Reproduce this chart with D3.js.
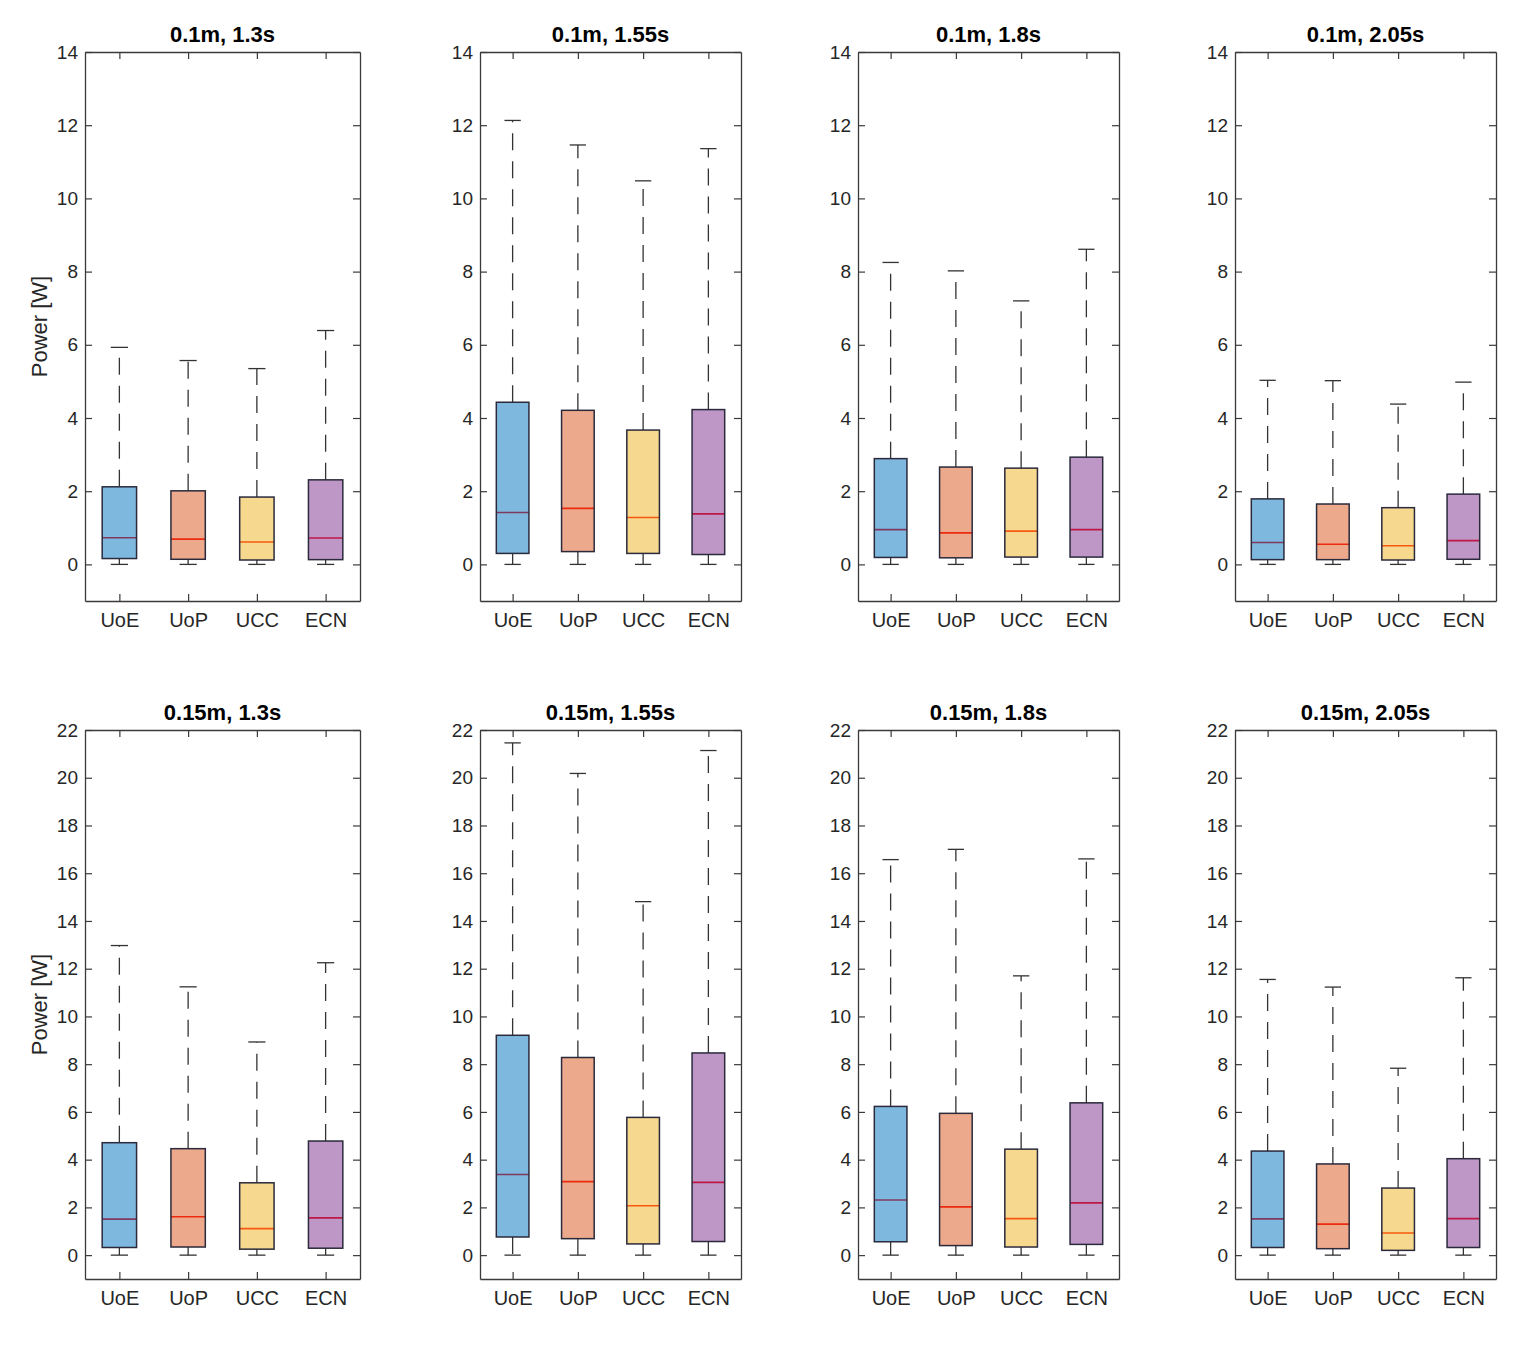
<!DOCTYPE html>
<html>
<head>
<meta charset="utf-8">
<script src="https://cdn.jsdelivr.net/npm/d3@7"></script>
<style>
  body { margin: 0; background: #fff; }
  text { font-family: "Liberation Sans", Arial, sans-serif; fill: #262626; }
</style>
</head>
<body>
<div id="chart"></div>
<script>
// ---- data ----
var categories = ['UoE', 'UoP', 'UCC', 'ECN'];
var titles = ['0.1m, 1.3s', '0.1m, 1.55s', '0.1m, 1.8s', '0.1m, 2.05s',
              '0.15m, 1.3s', '0.15m, 1.55s', '0.15m, 1.8s', '0.15m, 2.05s'];
var topTicks = [0, 2, 4, 6, 8, 10, 12, 14];
var bottomTicks = [0, 2, 4, 6, 8, 10, 12, 14, 16, 18, 20, 22];

// one row per panel, one value per category
var whiskerHigh = [
  [5.93, 5.57, 5.35, 6.39],
  [12.13, 11.46, 10.48, 11.36],
  [8.25, 8.02, 7.20, 8.61],
  [5.03, 5.02, 4.38, 4.98],
  [12.97, 11.24, 8.93, 12.25],
  [21.46, 20.18, 14.81, 21.14],
  [16.57, 17.00, 11.70, 16.60],
  [11.55, 11.23, 7.83, 11.62]
];
var q3 = [
  [2.12, 2.01, 1.84, 2.31],
  [4.43, 4.21, 3.67, 4.23],
  [2.89, 2.66, 2.63, 2.93],
  [1.79, 1.65, 1.55, 1.92],
  [4.71, 4.46, 3.03, 4.78],
  [9.21, 8.28, 5.77, 8.47],
  [6.23, 5.94, 4.44, 6.38],
  [4.36, 3.82, 2.81, 4.04]
];
var median = [
  [0.73, 0.69, 0.61, 0.72],
  [1.42, 1.53, 1.28, 1.38],
  [0.95, 0.86, 0.91, 0.95],
  [0.60, 0.55, 0.51, 0.65],
  [1.51, 1.61, 1.11, 1.56],
  [3.38, 3.08, 2.07, 3.05],
  [2.31, 2.02, 1.53, 2.19],
  [1.52, 1.30, 0.93, 1.53]
];
var q1 = [
  [0.16, 0.14, 0.12, 0.13],
  [0.30, 0.35, 0.30, 0.27],
  [0.19, 0.18, 0.20, 0.20],
  [0.13, 0.13, 0.12, 0.14],
  [0.32, 0.34, 0.25, 0.29],
  [0.76, 0.69, 0.47, 0.57],
  [0.56, 0.40, 0.34, 0.45],
  [0.32, 0.27, 0.20, 0.32]
];
var whiskerLow = [
  [0, 0, 0, 0], [0, 0, 0, 0], [0, 0, 0, 0], [0, 0, 0, 0],
  [0, 0, 0, 0], [0, 0, 0, 0], [0, 0, 0, 0], [0, 0, 0, 0]
];

var boxColors = ['#0072BD', '#D95319', '#EDB120', '#7E2F8E'];

// ---- layout ----
var W = 1538, H = 1346;
var colLeft = [85, 480, 858, 1235];
var colWidth = [275, 261, 261, 261];
var rowTop = [52, 730];
var rowBottom = [601, 1279];
var axisColor = '#3a3a3a';

var svg = d3.select('#chart').append('svg')
  .attr('width', W)
  .attr('height', H);

function drawPanel(p) {
  var row = Math.floor(p / 4), col = p % 4;
  var x0 = colLeft[col], w = colWidth[col];
  var y0 = rowTop[row], y1 = rowBottom[row];
  var ticks = row === 0 ? topTicks : bottomTicks;

  var x = d3.scaleLinear().domain([0.5, 4.5]).range([x0, x0 + w]);
  var y = d3.scaleLinear().domain([-1, ticks[ticks.length - 1]]).range([y1, y0]);
  var unit = x(1) - x(0);

  var g = svg.append('g');

  // y axis (left) with labels, ticks pointing in
  g.append('g')
    .attr('transform', 'translate(' + x0 + ',0)')
    .call(d3.axisLeft(y).tickValues(ticks).tickSizeInner(-7).tickSizeOuter(0).tickPadding(7));
  // right mirror
  g.append('g')
    .attr('transform', 'translate(' + (x0 + w) + ',0)')
    .call(d3.axisRight(y).tickValues(ticks).tickSizeInner(-7).tickSizeOuter(0).tickFormat(''));
  // bottom with category labels
  var xAxis = g.append('g')
    .attr('transform', 'translate(0,' + y1 + ')')
    .call(d3.axisBottom(x).tickValues([1, 2, 3, 4]).tickSizeInner(-7).tickSizeOuter(0)
      .tickPadding(12).tickFormat(function(d) { return categories[d - 1]; }));
  g.append('g')
    .attr('transform', 'translate(0,' + y0 + ')')
    .call(d3.axisTop(x).tickValues([1, 2, 3, 4]).tickSizeInner(-7).tickSizeOuter(0).tickFormat(''));

  g.selectAll('.domain').attr('stroke', axisColor).attr('stroke-width', 1.3);
  g.selectAll('.tick line').attr('stroke', axisColor).attr('stroke-width', 1.2);
  g.selectAll('.tick text').style('font-size', '19px').attr('fill', '#262626');
  xAxis.selectAll('.tick text').style('font-size', '20px');

  // title
  g.append('text')
    .attr('x', x0 + w / 2)
    .attr('y', y0 - 10)
    .attr('text-anchor', 'middle')
    .style('font-size', '22px')
    .style('font-weight', 'bold')
    .style('fill', '#000')
    .text(titles[p]);

  if (col === 0) {
    g.append('text')
      .attr('transform', 'translate(47,' + ((y0 + y1) / 2) + ') rotate(-90)')
      .attr('text-anchor', 'middle')
      .style('font-size', '22px')
      .text('Power [W]');
  }

  var rows = categories.map(function(c, i) {
    return {i: i + 1, hi: whiskerHigh[p][i], q3: q3[p][i], med: median[p][i],
            q1: q1[p][i], lo: whiskerLow[p][i], color: boxColors[i]};
  });

  var box = g.selectAll('.box').data(rows).enter().append('g').attr('class', 'box');

  // whiskers (dashed, starting at the box edge)
  [['q3', 'hi'], ['q1', 'lo']].forEach(function(k) {
    box.append('line')
      .attr('x1', function(d) { return x(d.i); })
      .attr('x2', function(d) { return x(d.i); })
      .attr('y1', function(d) { return y(d[k[0]]); })
      .attr('y2', function(d) { return y(d[k[1]]); })
      .attr('stroke', '#333').attr('stroke-width', 1.3)
      .attr('stroke-dasharray', '17,11');
  });
  // caps
  ['hi', 'lo'].forEach(function(k) {
    box.append('line')
      .attr('x1', function(d) { return x(d.i - 0.125); })
      .attr('x2', function(d) { return x(d.i + 0.125); })
      .attr('y1', function(d) { return y(d[k]); })
      .attr('y2', function(d) { return y(d[k]); })
      .attr('stroke', '#333').attr('stroke-width', 1.3);
  });
  // median (red, under translucent fill)
  box.append('line')
    .attr('x1', function(d) { return x(d.i - 0.25); })
    .attr('x2', function(d) { return x(d.i + 0.25); })
    .attr('y1', function(d) { return y(d.med); })
    .attr('y2', function(d) { return y(d.med); })
    .attr('stroke', '#ff0000').attr('stroke-width', 1.6);
  // box fill
  box.append('rect')
    .attr('x', function(d) { return x(d.i - 0.25); })
    .attr('width', unit * 0.5)
    .attr('y', function(d) { return y(d.q3); })
    .attr('height', function(d) { return y(d.q1) - y(d.q3); })
    .attr('fill', function(d) { return d.color; })
    .attr('fill-opacity', 0.5)
    .attr('stroke', '#2a2a3c')
    .attr('stroke-width', 1.5);
}

for (var p = 0; p < 8; p++) drawPanel(p);
</script>
</body>
</html>
